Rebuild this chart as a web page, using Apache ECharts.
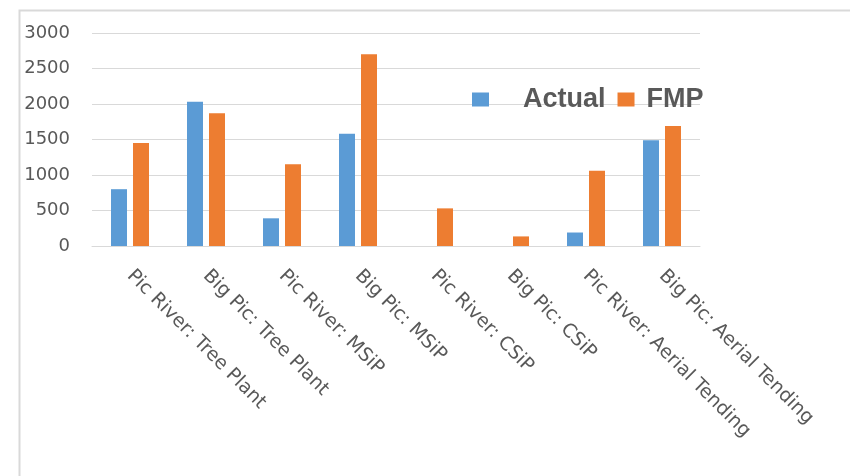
<!DOCTYPE html>
<html>
<head>
<meta charset="utf-8">
<script src="https://cdn.jsdelivr.net/npm/echarts@6/dist/echarts.min.js"></script>
<style>html,body{margin:0;padding:0;background:#fff}#c{width:850px;height:476px}</style>
</head>
<body>
<div id="c"></div>
<script>
const categories = ["Pic River: Tree Plant","Big Pic: Tree Plant","Pic River: MSiP","Big Pic: MSiP","Pic River: CSiP","Big Pic: CSiP","Pic River: Aerial Tending","Big Pic: Aerial Tending"];
const actual = [800, 2030, 390, 1580, null, null, 190, 1490];
const fmp = [1450, 1870, 1150, 2700, 530, 135, 1060, 1690];
const yTicks = [0, 500, 1000, 1500, 2000, 2500, 3000];

const chart = echarts.init(document.getElementById('c'));
chart.setOption({
  animation: false,
  backgroundColor: '#fff',
  graphic: [{
    type: 'rect', left: 17, top: 8, z: -1,
    shape: {x: 0, y: 0, width: 1000, height: 1000},
    style: {fill: 'none', stroke: '#d9d9d9', lineWidth: 2}
  }],
  legend: {
    left: 472, top: 86, padding: 0,
    itemWidth: 17, itemHeight: 14, itemGap: 12,
    icon: 'rect',
    textStyle: {fontFamily: 'Liberation Sans', fontSize: 27, fontWeight: 'bold', color: '#595959'},
    data: [
      {name: 'Actual', textStyle: {padding: [0, 0, 0, 29]}},
      {name: 'FMP', textStyle: {padding: [0, 0, 0, 7]}}
    ]
  },
  grid: {left: 92, right: 150, top: 33, bottom: 230},
  xAxis: {
    type: 'category', data: categories,
    axisLine: {lineStyle: {color: '#d9d9d9', width: 1}},
    axisTick: {show: false},
    axisLabel: {rotate: -45, interval: 0, margin: 27, color: '#595959', fontFamily: 'DejaVu Sans', fontSize: 19}
  },
  yAxis: {
    type: 'value', min: yTicks[0], max: yTicks[yTicks.length - 1], interval: 500,
    axisLine: {show: false}, axisTick: {show: false},
    splitLine: {lineStyle: {color: '#d9d9d9', width: 1}},
    axisLabel: {margin: 22, color: '#595959', fontFamily: 'DejaVu Sans', fontSize: 18, formatter: v => String(v)}
  },
  series: [
    {name: 'Actual', type: 'bar', data: actual, barWidth: 16, barGap: '37.5%', itemStyle: {color: '#5B9BD5'}},
    {name: 'FMP', type: 'bar', data: fmp, barWidth: 16, itemStyle: {color: '#ED7D31'}}
  ]
});
</script>
</body>
</html>
